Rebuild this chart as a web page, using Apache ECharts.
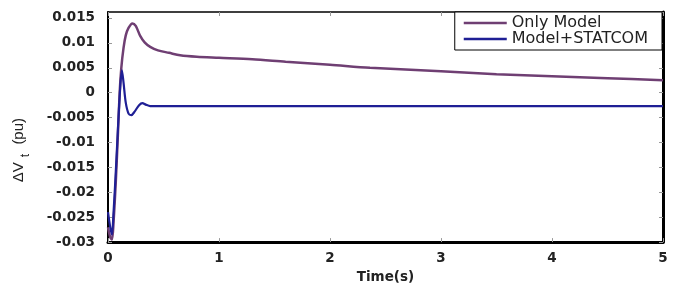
<!DOCTYPE html>
<html>
<head>
<meta charset="utf-8">
<script src="https://cdn.jsdelivr.net/npm/echarts@6/dist/echarts.min.js"></script>
<style>
html,body{margin:0;padding:0;background:#fff;}
#chart{width:685px;height:289px;}
</style>
</head>
<body>
<div id="chart"></div>
<script>
// Data
var seriesNames = ['Only Model', 'Model+STATCOM'];
var timeOnly = [0, 0.02, 0.036, 0.05, 0.07, 0.09, 0.105, 0.12, 0.14, 0.16, 0.185, 0.22, 0.25, 0.29, 0.33, 0.38, 0.45, 0.55, 0.65, 0.8, 1.0, 1.3, 1.6, 2.0, 2.36, 3.0, 3.5, 4.0, 4.5, 5.0];
var valOnly  = [-0.027, -0.029, -0.0295, -0.026, -0.018, -0.008, 0, 0.005, 0.009, 0.0115, 0.013, 0.0139, 0.0134, 0.0114, 0.0101, 0.0092, 0.0085, 0.0080, 0.0075, 0.0072, 0.0070, 0.0067, 0.0062, 0.0056, 0.0050, 0.0043, 0.0037, 0.0033, 0.0029, 0.0025];
var timeStat = [0, 0.02, 0.035, 0.05, 0.07, 0.09, 0.11, 0.125, 0.14, 0.16, 0.185, 0.21, 0.24, 0.28, 0.31, 0.34, 0.38, 0.45, 1.0, 2.0, 3.0, 4.0, 5.0];
var valStat  = [-0.024, -0.027, -0.0285, -0.024, -0.016, -0.007, 0.001, 0.0045, 0.002, -0.002, -0.0042, -0.0045, -0.0038, -0.0025, -0.0021, -0.0024, -0.0027, -0.0027, -0.0027, -0.0027, -0.0027, -0.0027, -0.0027];
var xTicks = [0, 1, 2, 3, 4, 5];
var yMin = -0.03, yMax = 0.0162, yStep = 0.005;

function pairs(t, v) { return t.map(function (x, i) { return [x, v[i]]; }); }

var chart = echarts.init(document.getElementById('chart'));
var labelFont = { fontFamily: 'DejaVu Sans', fontWeight: 'bold', fontSize: 13.5, color: '#222' };
var tickStyle = { show: true, inside: true, length: 4, lineStyle: { color: '#999', width: 1 } };

chart.setOption({
  animation: false,
  backgroundColor: '#fff',
  grid: { left: 108, right: 22, top: 12, bottom: 41, show: false },
  legend: {
    orient: 'vertical',
    right: 23, top: 12,
    data: seriesNames,
    icon: 'rect',
    backgroundColor: '#fff',
    borderColor: '#000', borderWidth: 1, borderRadius: 0,
    padding: [3, 14, 3, 9],
    itemGap: 0,
    itemWidth: 43, itemHeight: 2.5,
    textStyle: { fontFamily: 'DejaVu Sans', fontSize: 16, lineHeight: 13, color: '#222' }
  },
  xAxis: [{
    type: 'value', min: xTicks[0], max: xTicks[xTicks.length - 1], interval: 1,
    name: 'Time(s)', nameLocation: 'middle', nameGap: 23,
    nameTextStyle: { fontFamily: 'DejaVu Sans', fontWeight: 'bold', fontSize: 13.5, color: '#222' },
    axisLine: { show: true, onZero: false, lineStyle: { color: '#000', width: 3 } },
    axisTick: tickStyle,
    axisLabel: Object.assign({ margin: 9 }, labelFont),
    splitLine: { show: false }
  }, {
    type: 'value', position: 'top', min: xTicks[0], max: xTicks[xTicks.length - 1], interval: 1,
    axisLine: { show: true, onZero: false, lineStyle: { color: '#000', width: 1.5 } },
    axisTick: tickStyle, axisLabel: { show: false }, splitLine: { show: false }
  }],
  yAxis: [{
    type: 'value', min: yMin, max: yMax, interval: yStep,
    name: '{a|ΔV}{b|t}{a| (pu)}', nameLocation: 'middle', nameGap: 76, nameRotate: 90,
    nameTextStyle: {
      padding: [0, 46, 0, 0],
      rich: {
        a: { fontFamily: 'Liberation Sans', fontSize: 15, color: '#222' },
        b: { fontFamily: 'Liberation Sans', fontSize: 12, color: '#222', padding: [14, 5, 0, 5] }
      }
    },
    axisLine: { show: true, onZero: false, lineStyle: { color: '#000', width: 2 } },
    axisTick: tickStyle,
    axisLabel: Object.assign({ margin: 13, showMaxLabel: false, formatter: function (v) { return String(Number(v.toFixed(4))); } }, labelFont),
    splitLine: { show: false }
  }, {
    type: 'value', position: 'right', min: yMin, max: yMax, interval: yStep,
    axisLine: { show: true, onZero: false, lineStyle: { color: '#000', width: 3 } },
    axisTick: tickStyle, axisLabel: { show: false }, splitLine: { show: false }
  }],
  series: [{
    name: seriesNames[0], type: 'line', symbol: 'none', smooth: 0.3,
    data: pairs(timeOnly, valOnly),
    lineStyle: { color: '#6f3f73', width: 2.5 },
    itemStyle: { color: '#6f3f73' }
  }, {
    name: seriesNames[1], type: 'line', symbol: 'none', smooth: 0.3,
    data: pairs(timeStat, valStat),
    lineStyle: { color: '#1f1f95', width: 2.2 },
    itemStyle: { color: '#1f1f95' }
  }]
});
</script>
</body>
</html>
